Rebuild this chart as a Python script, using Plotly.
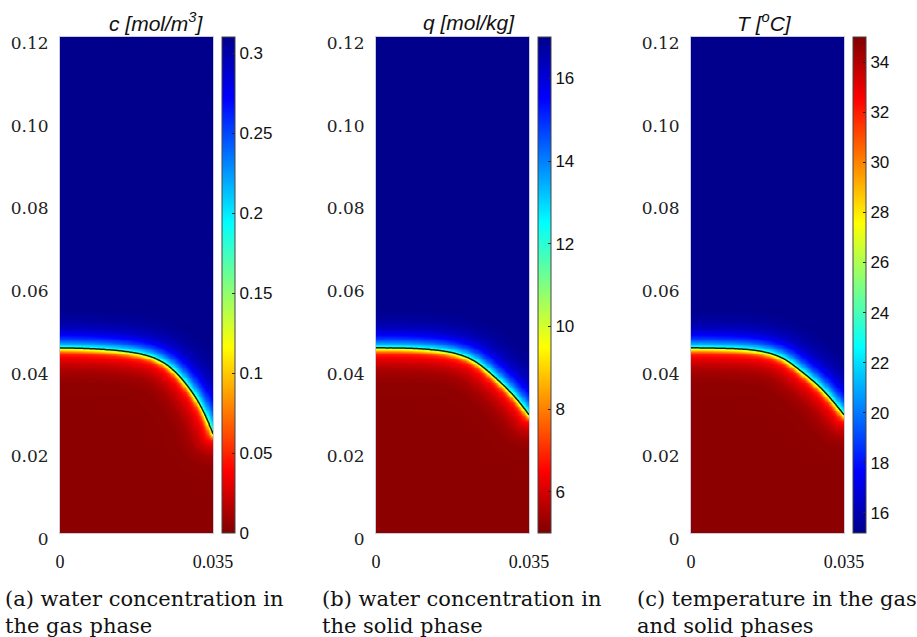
import numpy as np
import plotly.graph_objects as go

# ---- geometry of the domain (m) ----
X_MAX = 0.035
Y_MAX = 0.12

# ---- front position (m) for each field: x along the width, y height ----
front_x_c = [0.0, 0.0046, 0.0092, 0.0130, 0.0167, 0.0200, 0.0229, 0.0255, 0.0275, 0.0300, 0.0320, 0.0337, 0.0350]
front_y_c = [0.0448, 0.0447, 0.0445, 0.0442, 0.0437, 0.0430, 0.0418, 0.0400, 0.0378, 0.0346, 0.0312, 0.0278, 0.0240]

front_x_q = [0.0, 0.0040, 0.0078, 0.0115, 0.0153, 0.0185, 0.0215, 0.0240, 0.0261, 0.0285, 0.0307, 0.0330, 0.0350]
front_y_q = [0.0448, 0.0448, 0.0447, 0.0445, 0.0441, 0.0434, 0.0423, 0.0407, 0.0387, 0.0365, 0.0342, 0.0315, 0.0286]

front_x_T = [0.0, 0.0033, 0.0066, 0.0105, 0.0143, 0.0175, 0.0204, 0.0228, 0.0249, 0.0272, 0.0295, 0.0323, 0.0350]
front_y_T = [0.0448, 0.0448, 0.0447, 0.0446, 0.0443, 0.0437, 0.0427, 0.0412, 0.0394, 0.0375, 0.0354, 0.0322, 0.0286]

# ---- profile across the front: signed distance (m, + towards the top) vs share of the top level ----
profile_d = [-0.01446, -0.00843, -0.00578, -0.00386, -0.00241, -0.00145, -0.00096, -0.0006, -0.00024, 0.0,
             0.00036, 0.00096, 0.00193, 0.00313, 0.00458, 0.00675, 0.00964]
profile_s = [0.012, 0.016, 0.035, 0.07, 0.11, 0.16, 0.24, 0.33, 0.42, 0.5,
             0.62, 0.70, 0.80, 0.88, 0.94, 0.98, 1.0]

# ---- levels below / above the front and colour ranges ----
c_bottom, c_top = 0.0, 0.31
q_bottom, q_top = 5.0, 17.0
T_bottom, T_top = 35.0, 15.2

c_range = [0.0, 0.31]
q_range = [5.0, 17.0]
T_range = [15.2, 35.0]

c_ticks = [0, 0.05, 0.1, 0.15, 0.2, 0.25, 0.3]
c_ticktext = ["0", "0.05", "0.1", "0.15", "0.2", "0.25", "0.3"]
q_ticks = [6, 8, 10, 12, 14, 16]
T_ticks = [16, 18, 20, 22, 24, 26, 28, 30, 32, 34]

y_ticks = [0, 0.02, 0.04, 0.06, 0.08, 0.10, 0.12]
y_ticktext = ["0", "0.02", "0.04", "0.06", "0.08", "0.10", "0.12"]

titles = ["<i>c [mol/m<sup>3</sup>]</i>", "<i>q [mol/kg]</i>", "<i>T [<sup>o</sup>C]</i>"]
captions = [
    "(a) water concentration in<br>the gas phase",
    "(b) water concentration in<br>the solid phase",
    "(c) temperature in the gas<br>and solid phases",
]

JET = [
    [0.0, "rgb(0,0,140)"],
    [0.125, "rgb(0,0,255)"],
    [0.375, "rgb(0,255,255)"],
    [0.625, "rgb(255,255,0)"],
    [0.875, "rgb(255,0,0)"],
    [1.0, "rgb(128,0,0)"],
]

W, H = 917, 637
xs = np.linspace(0, X_MAX, 141)
ys = np.linspace(0, Y_MAX, 601)
GX, GY = np.meshgrid(xs, ys)


def front_curve(fx_pts, fy_pts, n=400, win=41):
    """Dense, lightly smoothed polyline through the front points."""
    fx = np.linspace(0, X_MAX, n)
    fy = np.interp(fx, fx_pts, fy_pts)
    pad = win // 2
    ext = np.concatenate([np.full(pad, fy[0]), fy, fy[-1] + (fy[-1] - fy[-pad - 1:-1][::-1])])
    fy_s = np.convolve(ext, np.ones(win) / win, mode="valid")
    return fx, fy_s


def field(fx_pts, fy_pts, bottom, top):
    fx, fy = front_curve(fx_pts, fy_pts)
    dist = np.full(GX.shape, np.inf)
    for px, py in zip(fx, fy):
        dist = np.minimum(dist, np.hypot(GX - px, GY - py))
    sign = np.where(GY >= np.interp(GX, fx, fy), 1.0, -1.0)
    s = np.interp(sign * dist, profile_d, profile_s)
    return bottom + s * (top - bottom)


def px_x(p):
    return p / W


def px_y(p):
    return 1 - p / H


panels = [
    dict(fx=front_x_c, fy=front_y_c, lo=c_bottom, hi=c_top, rng=c_range, rev=True,
         tv=c_ticks, tt=c_ticktext, plot=(60, 213), cb=222, title_x=156),
    dict(fx=front_x_q, fy=front_y_q, lo=q_bottom, hi=q_top, rng=q_range, rev=True,
         tv=q_ticks, tt=[str(v) for v in q_ticks], plot=(376, 529), cb=538, title_x=469),
    dict(fx=front_x_T, fy=front_y_T, lo=T_bottom, hi=T_top, rng=T_range, rev=False,
         tv=T_ticks, tt=[str(v) for v in T_ticks], plot=(691, 844), cb=853, title_x=764),
]

PLOT_TOP, PLOT_BOT = 37, 533
ydom = [px_y(PLOT_BOT), px_y(PLOT_TOP)]

fig = go.Figure()
annotations = []
for i, p in enumerate(panels):
    k = "" if i == 0 else str(i + 1)
    z = field(p["fx"], p["fy"], p["lo"], p["hi"])
    fig.add_trace(go.Heatmap(
        x=xs, y=ys, z=z, zsmooth="best",
        colorscale=JET, reversescale=p["rev"],
        zmin=p["rng"][0], zmax=p["rng"][1],
        xaxis="x" + k, yaxis="y" + k,
        colorbar=dict(
            x=px_x(p["cb"]), xanchor="left", xref="paper",
            y=(ydom[0] + ydom[1]) / 2, yanchor="middle",
            len=PLOT_BOT - PLOT_TOP, lenmode="pixels",
            thickness=13, thicknessmode="pixels",
            xpad=0, ypad=0,
            outlinewidth=1, outlinecolor="#444",
            tickvals=p["tv"], ticktext=p["tt"],
            ticks="inside", ticklen=3, tickcolor="#222",
            tickfont=dict(family="Liberation Sans", size=17, color="#111"),
        ),
        hoverinfo="skip",
    ))
    mid = (p["lo"] + p["hi"]) / 2
    fig.add_trace(go.Contour(
        x=xs, y=ys, z=z,
        contours=dict(start=mid, end=mid, size=abs(p["hi"] - p["lo"]), coloring="lines"),
        colorscale=[[0, "#0c2414"], [1, "#0c2414"]],
        line=dict(width=1.5, smoothing=1.0), showscale=False,
        xaxis="x" + k, yaxis="y" + k, hoverinfo="skip",
    ))
    x0, x1 = p["plot"]
    fig.layout["xaxis" + k] = dict(
        domain=[px_x(x0), px_x(x1)], range=[0, X_MAX], anchor="y" + k,
        tickvals=[0, X_MAX], ticktext=["0", "0.035"], ticks="",
        tickfont=dict(family="Liberation Serif", size=18, color="#111"),
        ticklabelstandoff=12, showgrid=False, zeroline=False, automargin=False,
        showline=True, linecolor="#c8ccd8", linewidth=1, mirror=True,
    )
    fig.layout["yaxis" + k] = dict(
        domain=ydom, range=[0, Y_MAX], anchor="x" + k,
        tickvals=y_ticks, ticktext=y_ticktext, ticks="",
        tickfont=dict(family="DejaVu Serif", size=17, color="#222"),
        ticklabelstandoff=7, ticklabelshift=6, automargin=False,
        showgrid=False, zeroline=False,
        showline=True, linecolor="#c8ccd8", linewidth=1, mirror=True,
    )
    annotations.append(dict(
        text=titles[i], x=px_x(p["title_x"]), y=px_y(22), xref="paper", yref="paper",
        xanchor="center", yanchor="middle", showarrow=False,
        font=dict(family="Liberation Sans", size=21, color="#111"),
    ))
    annotations.append(dict(
        text=captions[i], x=px_x([3, 320, 635][i]), y=px_y(612), xref="paper", yref="paper",
        xanchor="left", yanchor="middle", align="left", showarrow=False,
        font=dict(family="DejaVu Serif", size=21, color="#111"),
    ))

fig.update_layout(
    width=W, height=H, margin=dict(l=0, r=0, t=0, b=0, pad=0, autoexpand=False),
    paper_bgcolor="white", plot_bgcolor="white",
    annotations=annotations, showlegend=False,
)
fig.write_html("out.html")
